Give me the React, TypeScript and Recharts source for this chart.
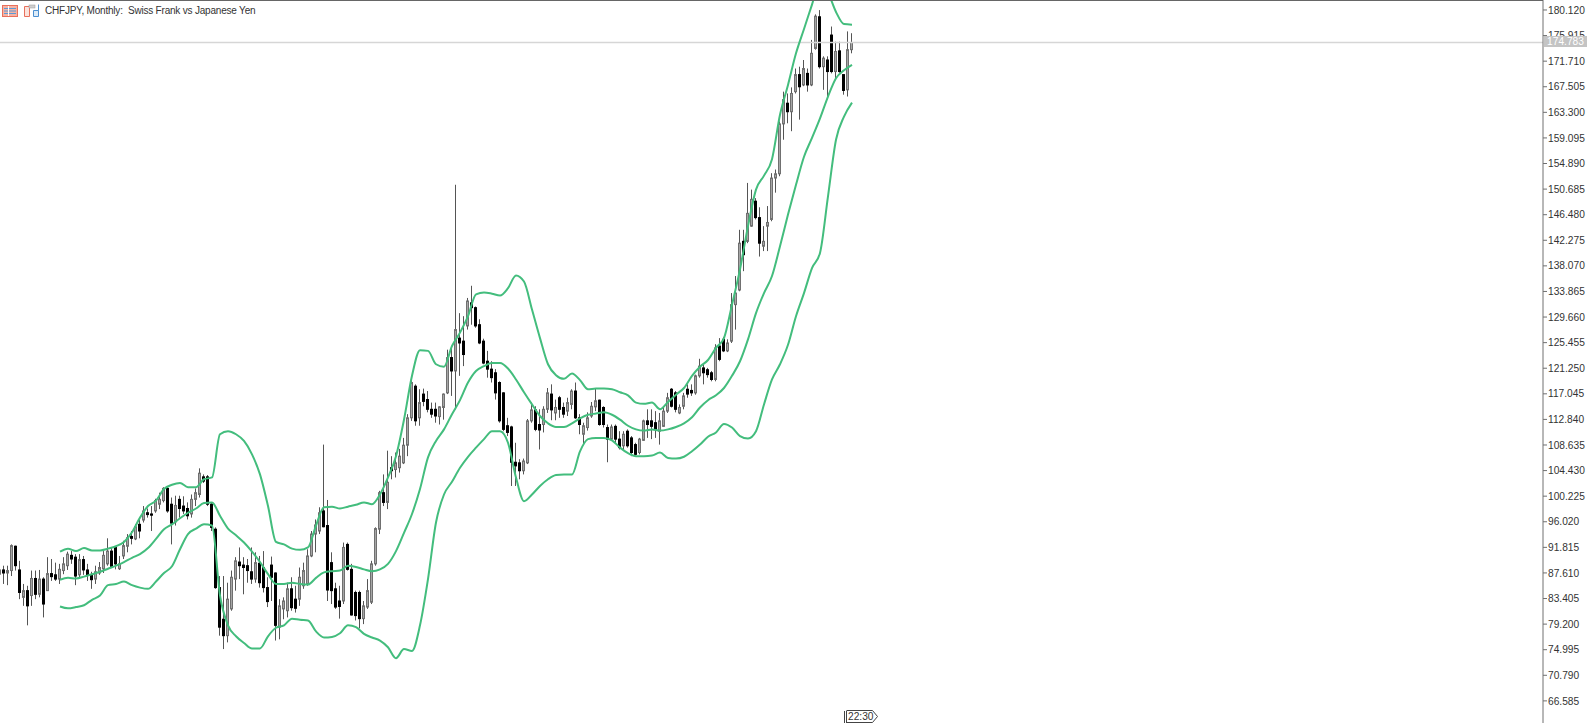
import { Bar, ComposedChart, Line, ReferenceLine, XAxis, YAxis } from 'recharts'

const FONT = '"Liberation Sans", Arial, sans-serif'

const priceTicks = [
  180.12, 175.915, 171.71, 167.505, 163.3, 159.095, 154.89, 150.685, 146.48, 142.275,
  138.07, 133.865, 129.66, 125.455, 121.25, 117.045, 112.84, 108.635, 104.43, 100.225,
  96.02, 91.815, 87.61, 83.405, 79.2, 74.995, 70.79, 66.585
]

const lastPrice = 174.783

const opens = [
  87.4, 88.1, 87.6, 88.0, 92.0, 88.1, 83.6, 84.7, 83.9, 86.7,
  84.1, 86.6, 84.7, 87.5, 87.3, 86.6, 88.0, 88.8, 90.5, 90.2,
  87.3, 89.8, 88.1, 87.3, 86.6, 87.6, 88.3, 89.1, 91.2, 91.8,
  88.3, 90.4, 92.0, 93.6, 93.2, 95.6, 96.3, 97.5, 97.3, 97.8,
  98.9, 99.5, 101.5, 98.9, 96.0, 99.7, 98.6, 98.2, 97.3, 99.7,
  100.5, 103.4, 103.4, 98.9, 94.8, 85.2, 80.0, 77.3, 81.7, 86.6,
  89.4, 88.9, 88.8, 87.8, 86.6, 89.2, 88.5, 85.2, 88.9, 87.6,
  78.7, 81.7, 81.4, 85.0, 83.3, 83.3, 85.5, 85.8, 90.4, 94.0,
  94.5, 97.8, 95.4, 89.3, 85.0, 83.0, 83.0, 92.3, 88.2, 84.4,
  84.4, 80.1, 82.0, 82.8, 89.1, 94.8, 100.8, 99.2, 104.9, 104.6,
  104.9, 105.7, 108.6, 113.1, 118.3, 113.1, 117.0, 116.1, 114.5, 114.5,
  113.3, 114.8, 117.2, 123.0, 120.8, 126.2, 125.7, 128.2, 132.0, 131.2,
  128.4, 125.7, 122.4, 121.1, 120.5, 118.9, 117.2, 111.8, 111.6, 105.8,
  105.7, 104.4, 105.7, 112.6, 114.4, 112.0, 112.0, 114.5, 117.0, 113.9,
  116.4, 114.8, 114.2, 115.3, 117.5, 113.1, 110.4, 111.5, 113.4, 114.9,
  116.0, 114.8, 111.5, 109.6, 111.7, 109.6, 108.5, 110.9, 109.8, 108.7,
  107.4, 109.4, 112.6, 112.6, 112.3, 110.9, 111.7, 114.2, 117.8, 117.2,
  113.9, 115.0, 117.8, 117.6, 117.2, 120.0, 121.3, 121.0, 120.5, 119.4,
  124.9, 126.0, 124.1, 125.7, 131.7, 134.1, 142.1, 142.1, 144.6, 148.7,
  146.0, 141.3, 144.6, 145.7, 152.5, 153.2, 161.4, 164.8, 163.4, 166.7,
  169.5, 167.8, 169.7, 167.8, 173.8, 179.0, 170.8, 171.9, 176.0, 170.0,
  173.4, 169.5, 167.0, 173.6
]

const highs = [
  89.3, 88.8, 88.8, 92.3, 92.1, 89.6, 85.8, 85.5, 88.0, 88.0,
  88.1, 86.9, 90.2, 89.9, 89.3, 89.1, 90.2, 91.1, 91.2, 90.7,
  90.7, 90.4, 89.1, 87.8, 88.8, 89.4, 91.2, 93.3, 91.8, 92.0,
  90.4, 92.9, 94.0, 94.5, 95.6, 96.7, 98.6, 98.2, 98.6, 99.8,
  100.8, 101.7, 101.8, 100.0, 100.3, 100.3, 100.2, 99.2, 100.5, 101.5,
  104.8, 103.8, 103.7, 99.2, 95.1, 87.1, 87.1, 86.0, 88.0, 90.2,
  91.8, 90.2, 89.9, 91.8, 91.0, 90.4, 91.2, 86.9, 90.3, 87.7,
  83.3, 83.6, 86.0, 86.9, 85.5, 88.5, 89.3, 91.5, 94.5, 96.4,
  98.4, 108.7, 99.6, 91.0, 86.0, 85.5, 92.6, 92.6, 89.1, 84.7,
  84.7, 83.0, 86.6, 89.6, 95.1, 101.1, 103.8, 107.7, 106.8, 107.4,
  108.0, 109.8, 113.7, 119.4, 118.6, 117.8, 117.9, 117.5, 115.6, 115.6,
  115.0, 117.1, 124.3, 124.6, 151.4, 130.3, 129.8, 132.8, 134.8, 131.4,
  129.3, 126.1, 124.1, 122.4, 121.1, 119.1, 117.3, 113.1, 111.8, 109.0,
  106.3, 106.4, 112.9, 115.6, 115.0, 114.5, 115.0, 118.0, 118.6, 116.1,
  116.7, 115.6, 116.4, 117.8, 118.9, 113.7, 112.3, 114.0, 115.7, 118.0,
  116.1, 115.0, 112.0, 112.0, 112.0, 110.9, 110.9, 111.2, 110.1, 109.0,
  109.8, 112.8, 114.5, 114.5, 114.2, 113.9, 114.8, 117.2, 118.0, 117.5,
  115.3, 117.2, 118.6, 118.6, 120.2, 122.8, 122.1, 121.3, 120.8, 125.2,
  126.2, 126.4, 126.0, 133.6, 136.4, 144.0, 144.0, 151.7, 150.6, 149.2,
  147.7, 144.6, 147.9, 153.3, 153.9, 161.8, 166.7, 166.4, 167.4, 170.5,
  170.8, 171.9, 170.5, 175.2, 179.4, 180.1, 172.5, 172.5, 177.4, 174.9,
  174.9, 169.5, 176.6, 176.3
]

const lows = [
  86.3, 85.8, 85.6, 87.1, 88.0, 83.3, 82.2, 79.0, 82.2, 83.3,
  83.6, 80.3, 84.7, 86.3, 86.3, 85.8, 87.4, 88.1, 89.1, 85.6,
  86.9, 87.3, 86.3, 85.0, 85.8, 87.3, 87.6, 88.8, 88.7, 88.2,
  88.1, 89.9, 91.0, 92.3, 93.0, 93.3, 95.9, 96.7, 94.5, 97.5,
  98.1, 99.2, 97.5, 92.3, 95.4, 96.7, 97.3, 96.4, 96.7, 98.6,
  100.0, 102.4, 98.6, 94.5, 85.0, 77.3, 75.1, 76.2, 81.4, 84.7,
  86.6, 84.1, 86.0, 85.8, 86.0, 85.2, 84.4, 82.0, 83.0, 76.5,
  76.7, 80.0, 80.3, 81.4, 81.1, 82.2, 85.0, 85.5, 90.2, 91.0,
  94.0, 95.1, 83.0, 82.5, 81.7, 80.1, 82.5, 88.0, 80.6, 79.8,
  78.5, 79.2, 81.7, 82.5, 88.8, 94.0, 98.6, 98.1, 103.0, 103.3,
  104.1, 105.5, 106.8, 112.6, 111.8, 111.8, 115.0, 114.0, 113.1, 112.3,
  112.0, 112.8, 117.0, 116.7, 114.5, 120.0, 121.6, 127.6, 128.4, 127.9,
  125.2, 121.9, 119.7, 118.9, 116.1, 112.3, 110.9, 110.1, 101.9, 101.9,
  103.0, 103.8, 105.5, 112.3, 110.9, 107.9, 110.7, 113.9, 112.7, 112.7,
  113.1, 113.1, 113.4, 114.5, 112.9, 110.4, 108.7, 111.0, 113.1, 114.2,
  111.8, 111.5, 105.8, 109.3, 109.0, 107.9, 107.9, 108.2, 106.8, 106.9,
  107.1, 109.3, 109.8, 109.6, 109.8, 108.7, 111.6, 113.9, 114.8, 114.0,
  113.7, 114.5, 116.4, 116.7, 116.9, 119.7, 118.6, 119.7, 119.1, 119.1,
  122.4, 123.9, 123.9, 125.4, 127.6, 133.9, 137.2, 141.8, 144.5, 145.7,
  139.6, 140.5, 140.5, 145.4, 150.1, 152.8, 158.8, 161.5, 160.2, 166.4,
  162.1, 167.6, 166.7, 167.6, 173.6, 170.5, 167.0, 165.4, 169.7, 168.6,
  169.8, 166.2, 165.9, 173.0
]

const closes = [
  88.1, 87.6, 88.0, 92.1, 88.8, 84.4, 84.7, 82.2, 86.7, 84.1,
  86.6, 82.5, 87.5, 87.0, 86.6, 88.2, 89.1, 90.7, 89.9, 87.1,
  89.8, 88.1, 87.3, 86.5, 87.8, 88.5, 90.5, 91.2, 88.7, 89.1,
  89.1, 92.1, 93.4, 93.3, 95.2, 94.5, 97.8, 97.2, 97.1, 99.5,
  99.7, 101.5, 97.8, 95.8, 98.7, 98.2, 97.8, 97.0, 99.7, 100.8,
  104.0, 102.7, 98.9, 95.1, 85.2, 78.7, 77.3, 83.3, 86.9, 89.6,
  88.8, 88.5, 88.0, 86.6, 89.3, 86.0, 85.2, 82.9, 86.9, 79.0,
  82.2, 83.0, 85.0, 81.9, 81.8, 86.9, 88.0, 90.4, 94.0, 95.5,
  97.5, 95.2, 84.8, 84.7, 82.0, 82.1, 91.8, 88.2, 80.7, 80.6,
  80.1, 82.2, 84.7, 89.1, 94.9, 100.8, 99.2, 102.5, 104.4, 105.7,
  106.8, 108.6, 113.1, 118.9, 112.6, 115.6, 115.8, 114.5, 113.7, 113.4,
  114.9, 117.0, 123.0, 120.8, 127.6, 125.4, 123.5, 132.3, 131.2, 128.2,
  125.4, 122.1, 121.1, 119.7, 117.2, 112.6, 111.2, 110.7, 105.8, 105.2,
  104.4, 106.0, 112.6, 114.4, 111.2, 111.1, 114.5, 117.2, 114.4, 114.8,
  114.5, 113.7, 115.6, 117.5, 113.1, 112.0, 111.8, 113.1, 115.0, 115.9,
  112.0, 112.0, 109.6, 111.6, 109.6, 108.2, 110.4, 108.5, 107.4, 107.1,
  109.6, 112.6, 112.0, 111.7, 111.2, 112.6, 114.2, 116.4, 115.0, 114.5,
  114.8, 116.7, 117.0, 117.2, 120.0, 121.6, 120.5, 120.2, 119.4, 124.6,
  122.7, 124.1, 125.4, 131.7, 133.6, 141.8, 139.9, 146.7, 149.0, 146.0,
  141.8, 142.1, 145.2, 152.5, 153.2, 161.4, 165.4, 163.4, 166.4, 169.5,
  167.5, 170.5, 167.8, 173.0, 179.1, 170.8, 172.2, 170.0, 170.0, 173.3,
  170.0, 166.9, 173.6, 174.78
]

const upperBand = [
  91.1, 91.6, 91.2, 91.7, 91.3, 91.3, 91.6, 92.0, 92.7, 94.3,
  96.7, 98.6, 99.5, 101.4, 102.1, 102.4, 101.7, 101.7, 103.0, 103.3,
  110.4, 110.9, 110.4, 109.3, 107.1, 103.8, 98.6, 92.7, 92.3, 91.6,
  91.4, 91.8, 95.4, 98.4, 98.5, 98.2, 98.5, 98.8, 99.2, 98.9,
  100.5, 103.3, 106.8, 112.8, 120.0, 124.2, 124.1, 121.9, 121.5, 124.9,
  127.1, 129.8, 133.4, 133.7, 133.5, 133.2, 134.4, 136.5, 135.5, 130.9,
  126.2, 121.9, 120.1, 119.5, 120.4, 119.3, 117.8, 117.9, 117.9, 117.8,
  117.3, 116.8, 115.6, 115.4, 115.6, 114.5, 115.7, 116.9, 118.0, 120.0,
  121.5, 122.6, 124.6, 126.2, 131.7, 137.5, 144.6, 150.6, 152.9, 155.6,
  162.9, 167.8, 173.0, 177.0, 181.0, 185.0, 183.0, 179.8, 177.8, 177.7
]

const middleBand = [
  86.5, 86.8, 86.7, 87.0, 87.4, 87.8, 88.3, 88.8, 89.4, 90.1,
  90.7, 91.7, 93.2, 94.8, 95.6, 96.6, 97.5, 98.2, 99.1, 99.2,
  97.0, 94.9, 93.8, 92.6, 91.1, 89.4, 87.4, 85.8, 85.8, 86.0,
  85.8, 85.7, 86.8, 87.7, 87.9, 88.0, 88.8, 88.6, 88.2, 87.9,
  88.2, 89.1, 91.2, 94.2, 97.3, 101.4, 106.6, 109.3, 111.2, 113.7,
  116.0, 118.9, 120.8, 121.6, 122.1, 122.1, 121.2, 119.4, 117.3, 115.3,
  113.4, 112.2, 111.6, 111.6, 112.2, 113.0, 113.6, 113.8, 114.0, 113.6,
  112.8, 111.8, 111.2, 111.0, 111.2, 111.0, 111.2, 111.6, 112.2, 113.2,
  114.8, 116.0, 116.8, 118.0, 120.0, 122.4, 126.0, 130.3, 133.6, 136.4,
  141.3, 146.5, 151.4, 156.0, 159.1, 162.3, 165.9, 168.9, 170.2, 171.1
]

const lowerBand = [
  82.1, 81.8, 82.0, 82.3, 83.2, 83.9, 85.6, 85.8, 86.2, 85.6,
  85.2, 85.0, 86.2, 87.6, 88.7, 91.5, 94.0, 94.9, 95.6, 95.4,
  83.9, 79.0, 77.2, 76.1, 75.2, 75.2, 77.2, 78.6, 79.0, 80.1,
  79.9, 79.8, 78.0, 77.0, 77.1, 77.7, 79.0, 78.7, 77.6, 77.0,
  76.5, 75.4, 73.6, 75.1, 74.8, 79.0, 86.6, 95.9, 100.5, 102.6,
  104.9, 106.7, 108.2, 109.6, 110.9, 110.9, 109.0, 103.3, 99.4, 100.5,
  101.9, 103.0, 103.7, 103.8, 103.8, 107.6, 109.6, 109.8, 109.8, 109.4,
  108.2, 107.3, 106.8, 106.8, 106.9, 107.4, 106.5, 106.4, 106.7, 107.6,
  108.7, 110.0, 110.7, 112.1, 111.5, 110.1, 109.7, 110.9, 115.3, 119.4,
  121.9, 125.1, 129.8, 133.6, 137.7, 140.2, 149.5, 158.8, 162.6, 164.9
]

const bandValue = (band: number[], i: number) =>
  i >= 15 && (i - 15) % 2 === 0 ? band[(i - 15) / 2] : null

const rows = opens.map((open, i) => ({
  idx: i,
  open,
  close: closes[i],
  range: [lows[i], highs[i]],
  upper: bandValue(upperBand, i),
  middle: bandValue(middleBand, i),
  lower: bandValue(lowerBand, i)
}))

function Candle(props: any) {
  const { x, y, width, height, payload } = props
  const { open, close, range } = payload
  const perUnit = height / (range[1] - range[0])
  const bodyTop = y + (range[1] - Math.max(open, close)) * perUnit
  const bodyHeight = Math.max(1, Math.abs(open - close) * perUnit)
  const up = close >= open
  const mid = Math.round(x + width / 2) - 0.5
  return (
    <g>
      <line x1={mid} x2={mid} y1={y} y2={y + height} stroke="#555" strokeWidth={1} />
      <rect
        x={mid - 1}
        y={bodyTop}
        width={2}
        height={bodyHeight}
        fill={up ? '#a6a6a6' : '#000'}
        stroke={up ? '#707070' : '#000'}
        strokeWidth={1}
      />
    </g>
  )
}

function ListIcon() {
  return (
    <svg width={16} height={12} style={{ position: 'absolute', left: 2, top: 5 }}>
      <rect x={0.5} y={0.5} width={15} height={11} fill="#f6b3a4" stroke="#e8705c" />
      <path d="M2 3.5h12M2 6h12M2 8.5h12" stroke="#5b9ad6" />
      <path d="M6.5 1v10" stroke="#fff" />
    </svg>
  )
}

function ChartIcon() {
  return (
    <svg width={16} height={13} style={{ position: 'absolute', left: 24, top: 4 }}>
      <path d="M0.5 2.5h5v10h-5z" fill="#fbe3dc" stroke="#e8705c" />
      <path d="M9.5 6.5h5v6h-5z" fill="#dcebf8" stroke="#4a8fd0" />
      <path d="M14.5 0.5v6" stroke="#4a8fd0" />
      <rect x={5} y={1} width={6} height={3} fill="#d0d0d0" stroke="#999" strokeWidth={0.5} />
    </svg>
  )
}

export default function App() {
  return (
    <div
      style={{
        position: 'absolute',
        left: 0,
        top: 0,
        width: 1592,
        height: 723,
        background: '#fff',
        overflow: 'hidden',
        fontFamily: FONT
      }}
    >
      <ComposedChart
        width={1592}
        height={723}
        data={rows}
        margin={{ top: 0, right: 0, bottom: 0, left: 0 }}
      >
        <XAxis type="number" dataKey="idx" domain={[0, 385.75]} allowDataOverflow hide />
        <YAxis
          orientation="right"
          width={49}
          domain={[62.95, 181.76]}
          allowDataOverflow
          ticks={priceTicks}
          interval={0}
          tickSize={4}
          tickMargin={1}
          tickFormatter={(v: number) => v.toFixed(3)}
          tick={{ fontSize: 10.2, fill: '#333', fontFamily: FONT }}
          axisLine={{ stroke: '#707070' }}
          tickLine={{ stroke: '#707070' }}
        />
        <ReferenceLine y={lastPrice} stroke="#d6d6d6" strokeWidth={1.5} />
        <Bar dataKey="range" barSize={3} shape={<Candle />} isAnimationActive={false} />
        <Line dataKey="upper" type="monotone" connectNulls dot={false} stroke="#43bd7d" strokeWidth={2} isAnimationActive={false} />
        <Line dataKey="middle" type="monotone" connectNulls dot={false} stroke="#43bd7d" strokeWidth={2} isAnimationActive={false} />
        <Line dataKey="lower" type="monotone" connectNulls dot={false} stroke="#43bd7d" strokeWidth={2} isAnimationActive={false} />
      </ComposedChart>

      <div style={{ position: 'absolute', left: 0, top: 0, width: 1543, height: 1, background: '#666' }} />
      <ListIcon />
      <ChartIcon />
      <div
        style={{
          position: 'absolute',
          left: 45,
          top: 4,
          fontSize: 10,
          letterSpacing: -0.2,
          lineHeight: '14px',
          color: '#333',
          whiteSpace: 'pre'
        }}
      >
        CHFJPY, Monthly:  Swiss Frank vs Japanese Yen
      </div>
      <div
        style={{
          position: 'absolute',
          left: 1544,
          top: 36,
          width: 43,
          height: 11,
          background: '#c4c4c4',
          color: '#fff',
          fontSize: 10.2,
          lineHeight: '11px',
          textAlign: 'center'
        }}
      >
        {lastPrice.toFixed(3)}
      </div>
      <svg width={36} height={13} style={{ position: 'absolute', left: 844, top: 710 }}>
        <path d="M0.5 1v12M2.5 1v12M2.5 0.5h26l5 6l-5 6h-26" fill="none" stroke="#444" />
        <text x={4} y={10} fontSize={10.2} fill="#333" fontFamily={FONT}>
          22:30
        </text>
      </svg>
    </div>
  )
}
